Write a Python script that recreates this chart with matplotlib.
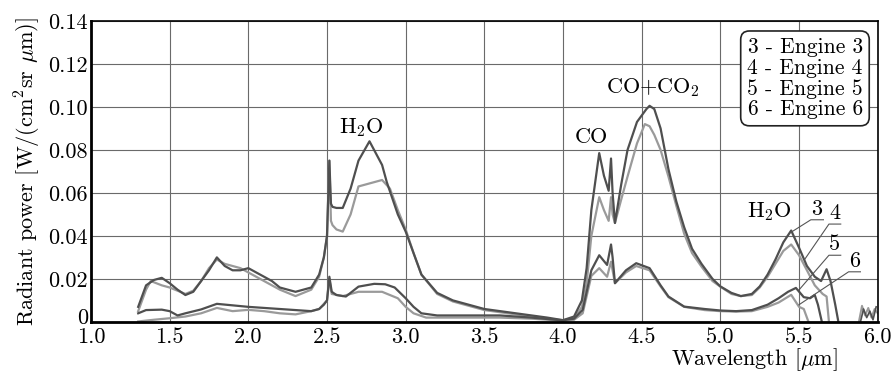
"""Radiant power spectra of four engines"""

import matplotlib
matplotlib.use("Agg")
import matplotlib.pyplot as plt
import matplotlib.transforms as mtransforms

plt.rcParams['font.family'] = 'serif'
plt.rcParams['font.serif'] = ['cmr10']
plt.rcParams['mathtext.fontset'] = 'cm'
plt.rcParams['axes.formatter.use_mathtext'] = True

# Engine 3 (dark, upper)
x3 = [1.30, 1.35, 1.40, 1.45, 1.50, 1.55, 1.60, 1.65, 1.70, 1.75, 1.80, 1.85, 1.90, 1.95,
      2.00, 2.05, 2.10, 2.15, 2.20, 2.30, 2.40, 2.45, 2.48, 2.50, 2.515, 2.525, 2.535, 2.56,
      2.60, 2.65, 2.70, 2.77, 2.85, 2.88, 2.95, 3.00, 3.05, 3.10, 3.20, 3.30, 3.50, 3.70,
      3.90, 4.00, 4.07, 4.12, 4.15, 4.18, 4.23, 4.26, 4.29, 4.305, 4.315, 4.33, 4.37, 4.41,
      4.47, 4.53, 4.55, 4.58, 4.62, 4.67, 4.72, 4.77, 4.82, 4.88, 4.95, 5.00, 5.07, 5.13,
      5.20, 5.25, 5.30, 5.35, 5.40, 5.45, 5.50, 5.55, 5.60, 5.64, 5.675, 5.70, 5.73, 5.75]
y3 = [0.007, 0.017, 0.0195, 0.0205, 0.018, 0.015, 0.0125, 0.014, 0.019, 0.024, 0.030, 0.026,
      0.024, 0.024, 0.025, 0.023, 0.021, 0.019, 0.016, 0.014, 0.016, 0.022, 0.030, 0.040,
      0.075, 0.055, 0.0535, 0.053, 0.053, 0.062, 0.075, 0.084, 0.073, 0.065, 0.050, 0.042,
      0.032, 0.022, 0.0135, 0.010, 0.006, 0.004, 0.002, 0.0008, 0.0025, 0.010, 0.025, 0.052,
      0.0785, 0.068, 0.061, 0.076, 0.060, 0.046, 0.064, 0.080, 0.093, 0.099, 0.1005, 0.099,
      0.090, 0.071, 0.056, 0.044, 0.034, 0.027, 0.020, 0.0165, 0.0135, 0.012, 0.013, 0.0165,
      0.022, 0.029, 0.037, 0.0425, 0.0345, 0.026, 0.021, 0.019, 0.0245, 0.019, 0.008, 0.0]

# Engine 4 (light, upper)
x4 = [1.30, 1.35, 1.38, 1.45, 1.50, 1.55, 1.60, 1.65, 1.70, 1.75, 1.80, 1.85, 1.90, 1.95,
      2.00, 2.05, 2.10, 2.15, 2.20, 2.30, 2.40, 2.45, 2.48, 2.50, 2.515, 2.525, 2.535, 2.56,
      2.60, 2.65, 2.70, 2.75, 2.80, 2.85, 2.90, 2.95, 3.00, 3.05, 3.10, 3.20, 3.30, 3.50,
      3.70, 3.90, 4.00, 4.07, 4.12, 4.15, 4.18, 4.23, 4.26, 4.29, 4.305, 4.315, 4.33, 4.37,
      4.41, 4.47, 4.52, 4.55, 4.58, 4.62, 4.67, 4.72, 4.77, 4.82, 4.88, 4.95, 5.00, 5.07,
      5.13, 5.20, 5.25, 5.30, 5.35, 5.40, 5.45, 5.50, 5.55, 5.60, 5.65, 5.675, 5.69]
y4 = [0.005, 0.015, 0.019, 0.017, 0.016, 0.0145, 0.013, 0.0145, 0.019, 0.025, 0.029, 0.027,
      0.026, 0.025, 0.023, 0.021, 0.019, 0.017, 0.015, 0.012, 0.015, 0.021, 0.030, 0.040,
      0.075, 0.047, 0.045, 0.043, 0.042, 0.050, 0.063, 0.064, 0.065, 0.066, 0.062, 0.052,
      0.043, 0.032, 0.022, 0.013, 0.0095, 0.0055, 0.0035, 0.0015, 0.0005, 0.0015, 0.007,
      0.018, 0.040, 0.058, 0.052, 0.047, 0.058, 0.050, 0.046, 0.057, 0.0676, 0.083, 0.092,
      0.091, 0.087, 0.080, 0.0676, 0.054, 0.041, 0.032, 0.0257, 0.019, 0.0164, 0.013, 0.012,
      0.0125, 0.016, 0.021, 0.027, 0.033, 0.036, 0.031, 0.024, 0.017, 0.013, 0.0118, 0.0]

# noisy tails near 6 um
x3_tail = [5.89, 5.91, 5.93, 5.95, 5.97, 5.99]
y3_tail = [0.0, 0.006, 0.002, 0.005, 0.001, 0.007]
x4_tail = [5.88, 5.90, 5.92, 5.94, 5.96, 5.98, 6.0]
y4_tail = [0.0, 0.0075, 0.003, 0.0065, 0.002, 0.006, 0.004]

# Engine 5 (dark, lower)
x5 = [1.30, 1.35, 1.45, 1.50, 1.55, 1.60, 1.70, 1.80, 1.90, 2.00, 2.10, 2.20, 2.30, 2.40,
      2.45, 2.48, 2.50, 2.515, 2.53, 2.56, 2.62, 2.70, 2.80, 2.87, 2.93, 3.00, 3.05, 3.10,
      3.20, 3.40, 3.60, 3.80, 3.95, 4.00, 4.07, 4.125, 4.18, 4.23, 4.28, 4.305, 4.315, 4.33,
      4.40, 4.465, 4.55, 4.62, 4.67, 4.77, 4.90, 5.00, 5.10, 5.20, 5.30, 5.37, 5.43, 5.48,
      5.53, 5.57, 5.60, 5.62, 5.645]
y5 = [0.004, 0.0055, 0.0057, 0.005, 0.003, 0.004, 0.0058, 0.0084, 0.0077, 0.007, 0.0065,
      0.006, 0.0055, 0.005, 0.006, 0.008, 0.010, 0.021, 0.014, 0.0125, 0.0118, 0.0164, 0.0177,
      0.0175, 0.016, 0.011, 0.007, 0.004, 0.003, 0.003, 0.003, 0.002, 0.001, 0.0008, 0.0015,
      0.0056, 0.024, 0.031, 0.0265, 0.036, 0.030, 0.018, 0.024, 0.0273, 0.025, 0.017, 0.0118,
      0.0071, 0.006, 0.0053, 0.005, 0.0055, 0.008, 0.011, 0.014, 0.0158, 0.0115, 0.011,
      0.0125, 0.008, 0.0]

# Engine 6 (light, lower)
x6 = [1.30, 1.40, 1.50, 1.60, 1.70, 1.80, 1.90, 2.00, 2.10, 2.20, 2.30, 2.40, 2.45, 2.50,
      2.515, 2.53, 2.60, 2.70, 2.85, 2.95, 3.00, 3.05, 3.13, 3.20, 3.40, 3.60, 3.80, 3.95,
      4.00, 4.07, 4.125, 4.18, 4.23, 4.28, 4.305, 4.315, 4.33, 4.40, 4.465, 4.55, 4.62, 4.67,
      4.77, 4.90, 5.00, 5.10, 5.20, 5.30, 5.37, 5.45, 5.50, 5.53, 5.56]
y6 = [0.0002, 0.001, 0.0017, 0.0025, 0.004, 0.0065, 0.005, 0.0056, 0.005, 0.004, 0.0035,
      0.005, 0.006, 0.010, 0.020, 0.013, 0.012, 0.014, 0.014, 0.011, 0.007, 0.004, 0.002,
      0.002, 0.002, 0.002, 0.0015, 0.0008, 0.0005, 0.001, 0.004, 0.0214, 0.025, 0.021, 0.028,
      0.024, 0.018, 0.023, 0.026, 0.024, 0.0165, 0.0115, 0.007, 0.0055, 0.005, 0.0048, 0.005,
      0.007, 0.009, 0.0126, 0.007, 0.006, 0.0]

x_ticks = [1.0, 1.5, 2.0, 2.5, 3.0, 3.5, 4.0, 4.5, 5.0, 5.5, 6.0]
y_ticks = [0, 0.02, 0.04, 0.06, 0.08, 0.10, 0.12, 0.14]
y_tick_labels = ["0", "0.02", "0.04", "0.06", "0.08", "0.10", "0.12", "0.14"]
legend_lines = ["3 - Engine 3", "4 - Engine 4", "5 - Engine 5", "6 - Engine 6"]

DARK = "#4f4f4f"
LIGHT = "#9a9a9a"

fig = plt.figure(figsize=(8.92, 3.73), dpi=100)
ax = fig.add_axes([0.102, 0.137, 0.882, 0.807])

ax.grid(True, color="#6a6a6a", linewidth=0.8)
ax.set_axisbelow(True)

ax.plot(x4, y4, color=LIGHT, lw=1.6)
ax.plot(x4_tail, y4_tail, color=LIGHT, lw=1.4)
ax.plot(x6, y6, color=LIGHT, lw=1.6)
ax.plot(x3, y3, color=DARK, lw=1.6)
ax.plot(x3_tail, y3_tail, color=DARK, lw=1.2)
ax.plot(x5, y5, color=DARK, lw=1.6)

ax.set_xlim(1.0, 6.0)
ax.set_ylim(0, 0.14)
ax.set_xticks(x_ticks)
ax.set_xticklabels([f"{v:.1f}" for v in x_ticks])
ax.set_yticks(y_ticks)
ax.set_yticklabels(y_tick_labels)
ax.tick_params(length=0, labelsize=16, pad=2)
ax.tick_params(axis="x", pad=4)

# lift the "0" label a little so it clears "1.0" as in the original
lift = mtransforms.ScaledTranslation(0, 4 / 72, fig.dpi_scale_trans)
zero_label = ax.get_yticklabels()[0]
zero_label.set_transform(zero_label.get_transform() + lift)

for side in ["left", "bottom"]:
    ax.spines[side].set_linewidth(2.0)
for side in ["top", "right"]:
    ax.spines[side].set_linewidth(1.2)

ax.set_ylabel(r"Radiant power [W/(cm$^2$sr $\mu$m)]", fontsize=16, labelpad=4)
ax.set_xlabel(r"Wavelength [$\mu$m]", fontsize=16, ha="right", va="center")
ax.xaxis.set_label_coords(0.949, -0.125)

# peak labels
ax.text(2.72, 0.0905, r"H$_2$O", fontsize=16, ha="center", va="center")
ax.text(4.18, 0.086, "CO", fontsize=16, ha="center", va="center")
ax.text(4.57, 0.109, r"CO+CO$_2$", fontsize=16, ha="center", va="center")
ax.text(5.31, 0.0515, r"H$_2$O", fontsize=16, ha="center", va="center")

# curve numbers with leader lines
leaders = [
    ("3", (5.445, 0.0415), (5.575, 0.0475), 5.655),
    ("4", (5.535, 0.029), (5.69, 0.0455), 5.765),
    ("5", (5.50, 0.0149), (5.69, 0.031), 5.765),
    ("6", (5.50, 0.008), (5.815, 0.0233), 5.89),
]
for label, tip, start, end in leaders:
    ax.plot([tip[0], start[0], end], [tip[1], start[1], start[1]],
            color="#555555", lw=0.8)
    ax.text((start[0] + end) / 2, start[1] + 0.0005, label, fontsize=16,
            ha="center", va="bottom")

ax.text(0.981, 0.945, "\n".join(legend_lines), transform=ax.transAxes,
        fontsize=15.5, ha="right", va="top", linespacing=1.08,
        bbox=dict(boxstyle="round,pad=0.3,rounding_size=0.4",
                  facecolor="white", edgecolor="#222222", linewidth=1.2))

fig.savefig("out.png", dpi=100)
